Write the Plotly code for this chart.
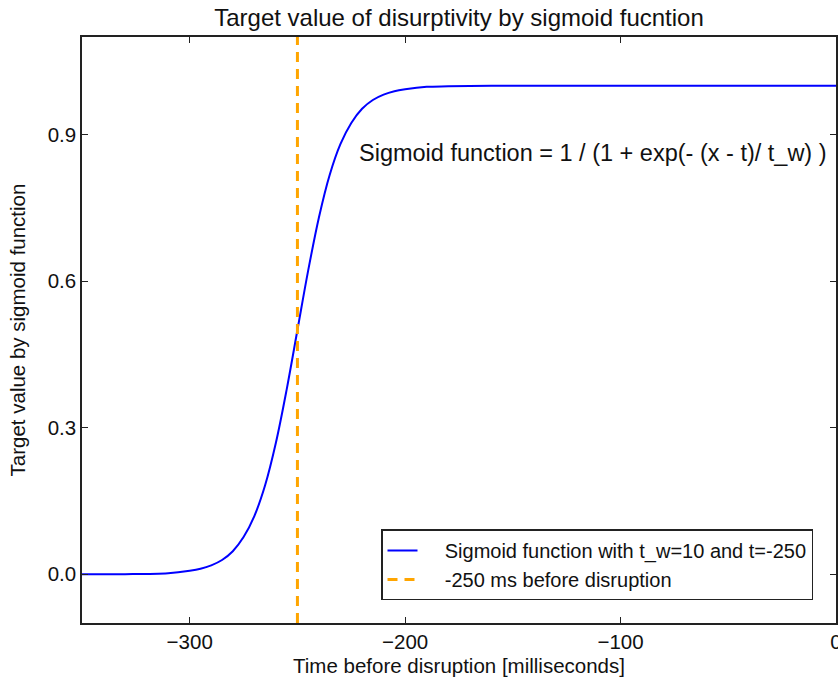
import plotly.graph_objects as go

# Values
time_ms = [-350, -330, -310, -300, -295, -290, -285, -280, -275, -270, -265, -260,
           -255, -250, -245, -240, -235, -230, -225, -220, -215, -210, -205, -200,
           -190, -180, -160, -120, -80, -40, 0]
target = [0.000, 0.000, 0.002, 0.007, 0.011, 0.018, 0.029, 0.047, 0.076, 0.119, 0.182, 0.269,
          0.378, 0.500, 0.622, 0.731, 0.818, 0.881, 0.924, 0.953, 0.971, 0.982, 0.989, 0.993,
          0.998, 0.999, 1.000, 1.000, 1.000, 1.000, 1.000]
marker_x = [-250, -250]
marker_y = [-0.1, 1.1]

x_ticks = [-300, -200, -100, 0]
x_tick_text = ["\u2212300", "\u2212200", "\u2212100", "0"]
y_ticks = [0.0, 0.3, 0.6, 0.9]
y_tick_text = ["0.0", "0.3", "0.6", "0.9"]

font_family = "Liberation Sans, Arial, Helvetica, sans-serif"
ink = "#111111"
pad = "\u00a0" * 4

fig = go.Figure()
fig.add_trace(go.Scatter(x=time_ms, y=target, mode="lines", line_shape="spline",
                         line=dict(color="#0000FF", width=2),
                         name=pad + "Sigmoid function with t_w=10 and t=-250"))
fig.add_trace(go.Scatter(x=marker_x, y=marker_y, mode="lines",
                         line=dict(color="#FFA500", width=3, dash="10px,7px"),
                         name=pad + "-250 ms before disruption"))

fig.add_annotation(x=-112.7, y=0.863, xref="x", yref="y", showarrow=False,
                   text="Sigmoid function = 1 / (1 + exp(- (x - t)/ t_w) )",
                   font=dict(size=23.5, color=ink, family=font_family))

axis_common = dict(showgrid=False, zeroline=False, showline=True, mirror="allticks",
                   linecolor="#222222", linewidth=1.5, ticks="inside", ticklen=6,
                   tickcolor="#222222", tickwidth=1, ticklabeloverflow="allow",
                   tickfont=dict(size=20.5, color=ink, family=font_family))

fig.update_xaxes(range=[-350, 0], tickvals=x_ticks, ticktext=x_tick_text,
                 title=dict(text="Time before disruption [milliseconds]", standoff=6,
                            font=dict(size=20.5, color=ink, family=font_family)),
                 **axis_common)
fig.update_yaxes(range=[-0.1, 1.1], tickvals=y_ticks, ticktext=y_tick_text,
                 title=dict(text="Target value by sigmoid function", standoff=16,
                            font=dict(size=20.5, color=ink, family=font_family)),
                 **axis_common)

fig.update_layout(
    width=838, height=678,
    margin=dict(l=82, r=2, t=37, b=55, autoexpand=False),
    paper_bgcolor="white", plot_bgcolor="white",
    title=dict(text="Target value of disurptivity by sigmoid fucntion",
               x=(82 + 836) / 2 / 838, xanchor="center", y=1 - 18 / 678, yanchor="middle",
               font=dict(size=24, color=ink, family=font_family)),
    legend=dict(x=0.9695, xanchor="right", y=0.099, yanchor="middle",
                bordercolor="#222222", borderwidth=1.5, bgcolor="white",
                font=dict(size=20, color=ink, family=font_family),
                itemwidth=30, tracegroupgap=0),
    showlegend=True,
)

fig.write_html("out.html")
